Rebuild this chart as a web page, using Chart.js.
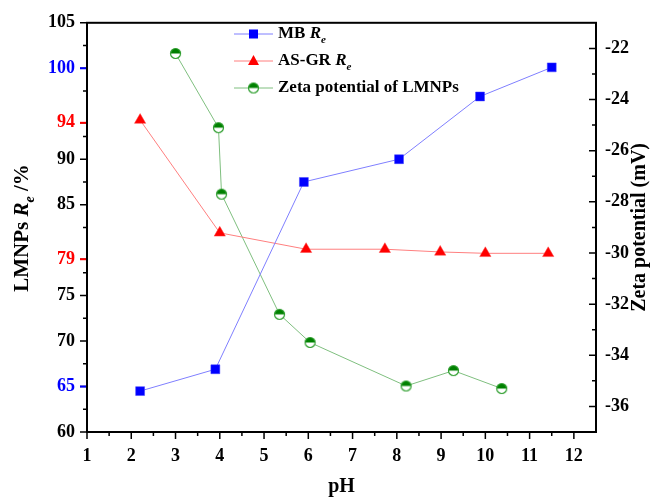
<!DOCTYPE html>
<html>
<head>
<meta charset="utf-8">
<script src="https://cdn.jsdelivr.net/npm/chart.js@4.4.1/dist/chart.umd.min.js"></script>
<style>
html, body { margin: 0; padding: 0; background: #fff; }
#wrap { width: 659px; height: 499px; position: relative; }
</style>
</head>
<body>
<div id="wrap"><canvas id="reChart"></canvas></div>
<script>
// MB removal
var mbPH = [2.2, 3.9, 5.9, 8.05, 9.88, 11.5];
var mbRe = [64.5, 66.9, 87.5, 90.0, 96.9, 100.1];
// AS-GR removal
var asPH = [2.2, 4.0, 5.95, 7.73, 8.98, 10.0, 11.42];
var asRe = [94.3, 81.9, 80.1, 80.1, 79.8, 79.65, 79.65];
// zeta potential
var zetaPH = [3.0, 3.97, 4.04, 5.35, 6.04, 8.21, 9.28, 10.37];
var zeta = [-22.2, -25.1, -27.7, -32.4, -33.5, -35.2, -34.6, -35.3];

// tick labels
var xTicks = [1, 2, 3, 4, 5, 6, 7, 8, 9, 10, 11, 12];
var xMinor = [1.5, 2.5, 3.5, 4.5, 5.5, 6.5, 7.5, 8.5, 9.5, 10.5, 11.5];
var leftTicks = [60, 65, 70, 75, 79, 85, 90, 94, 100, 105];
var leftMinor = [62.5, 67.5, 72.5, 77.5, 82.5, 87.5, 92.5, 97.5, 102.5];
var rightTicks = [-36, -34, -32, -30, -28, -26, -24, -22];
var rightMinor = [-35, -33, -31, -29, -27, -25, -23];
var blueTicks = [65, 100];
var redTicks = [79, 94];

var FONT = '"Liberation Serif", "Times New Roman", serif';

function toPoints(xs, ys) {
  return xs.map(function (x, i) { return { x: x, y: ys[i] }; });
}

// half filled circle marker
function halfCircle() {
  var c = document.createElement('canvas');
  c.width = 13; c.height = 13;
  var g = c.getContext('2d');
  g.fillStyle = '#fff';
  g.beginPath(); g.arc(6.5, 6.5, 5, 0, Math.PI * 2); g.fill();
  g.fillStyle = '#008000';
  g.beginPath(); g.arc(6.5, 6.5, 5, Math.PI, Math.PI * 2); g.closePath(); g.fill();
  g.strokeStyle = '#2e9e2e';
  g.lineWidth = 1.2;
  g.beginPath(); g.arc(6.5, 6.5, 5, 0, Math.PI * 2); g.stroke();
  return c;
}
var zetaMarker = halfCircle();

function tickColor(c) {
  var v = c.tick ? c.tick.value : null;
  if (blueTicks.indexOf(v) >= 0) return '#0000ff';
  if (redTicks.indexOf(v) >= 0) return '#ff0000';
  return '#000';
}

// frame, tick marks, titles and legend
var decor = {
  id: 'decor',
  afterDatasetsDraw: function (chart) {
    var ctx = chart.ctx, a = chart.chartArea;
    var sx = chart.scales.x, sy = chart.scales.y, sy1 = chart.scales.y1;
    ctx.save();
    ctx.strokeStyle = '#000';
    ctx.lineWidth = 2;
    ctx.strokeRect(a.left, a.top, a.right - a.left, a.bottom - a.top);

    ctx.lineWidth = 1.5;
    ctx.beginPath();
    xTicks.forEach(function (v) { var p = sx.getPixelForValue(v); ctx.moveTo(p, a.bottom); ctx.lineTo(p, a.bottom + 7); });
    xMinor.forEach(function (v) { var p = sx.getPixelForValue(v); ctx.moveTo(p, a.bottom); ctx.lineTo(p, a.bottom + 4); });
    leftTicks.forEach(function (v) { var p = sy.getPixelForValue(v); ctx.moveTo(a.left, p); ctx.lineTo(a.left - 7, p); });
    leftMinor.forEach(function (v) { var p = sy.getPixelForValue(v); ctx.moveTo(a.left, p); ctx.lineTo(a.left - 4, p); });
    rightTicks.forEach(function (v) { var p = sy1.getPixelForValue(v); ctx.moveTo(a.right, p); ctx.lineTo(a.right - 7, p); });
    rightMinor.forEach(function (v) { var p = sy1.getPixelForValue(v); ctx.moveTo(a.right, p); ctx.lineTo(a.right - 4, p); });
    ctx.stroke();

    // coloured major ticks on the left axis
    ctx.lineWidth = 2;
    blueTicks.concat(redTicks).forEach(function (v) {
      var p = sy.getPixelForValue(v);
      ctx.strokeStyle = blueTicks.indexOf(v) >= 0 ? '#0000ff' : '#ff0000';
      ctx.beginPath(); ctx.moveTo(a.left - 1, p); ctx.lineTo(a.left - 7, p); ctx.stroke();
    });

    ctx.fillStyle = '#000';
    ctx.textBaseline = 'middle';
    // x title
    ctx.font = 'bold 20px ' + FONT;
    ctx.textAlign = 'center';
    ctx.fillText('pH', (a.left + a.right) / 2, 487);

    // right title, reads bottom to top
    ctx.save();
    ctx.translate(640, (a.top + a.bottom) / 2);
    ctx.rotate(-Math.PI / 2);
    ctx.font = 'bold 20px ' + FONT;
    ctx.fillText('Zeta potential (mV)', 0, 0);
    ctx.restore();

    // left title with italic R and subscript e
    ctx.save();
    ctx.translate(23, 228);
    ctx.rotate(-Math.PI / 2);
    drawRe(ctx, 'LMNPs ', ' /%', 21, true);
    ctx.restore();

    // legend
    var lx = 234, lx2 = 273, tx = 278;
    var rows = [34, 61, 88];
    ctx.lineWidth = 1;
    ctx.strokeStyle = '#7f7fff';
    ctx.beginPath(); ctx.moveTo(lx, rows[0]); ctx.lineTo(lx2, rows[0]); ctx.stroke();
    ctx.fillStyle = '#0000ff';
    ctx.fillRect(253.5 - 4.5, rows[0] - 4.5, 9, 9);

    ctx.strokeStyle = '#ff7f7f';
    ctx.beginPath(); ctx.moveTo(lx, rows[1]); ctx.lineTo(lx2, rows[1]); ctx.stroke();
    ctx.fillStyle = '#ff0000';
    ctx.beginPath();
    ctx.moveTo(253.5, rows[1] - 6); ctx.lineTo(259, rows[1] + 4); ctx.lineTo(248, rows[1] + 4);
    ctx.closePath(); ctx.fill();

    ctx.strokeStyle = '#7fbf7f';
    ctx.beginPath(); ctx.moveTo(lx, rows[2]); ctx.lineTo(lx2, rows[2]); ctx.stroke();
    ctx.drawImage(zetaMarker, 253.5 - 6.5, rows[2] - 6.5);

    ctx.fillStyle = '#000';
    ctx.textAlign = 'left';
    ctx.save(); ctx.translate(tx, rows[0]); drawRe(ctx, 'MB ', '', 17, false); ctx.restore();
    ctx.save(); ctx.translate(tx, rows[1]); drawRe(ctx, 'AS-GR ', '', 17, false); ctx.restore();
    ctx.font = 'bold 17px ' + FONT;
    ctx.fillText('Zeta potential of LMNPs', tx, rows[2]);
    ctx.restore();
  }
};

// text like "MB Re" starting at 0,0 (or centred)
function drawRe(ctx, before, after, size, centre) {
  var sub = Math.round(size * 0.65);
  ctx.textAlign = 'left';
  ctx.textBaseline = 'middle';
  ctx.font = 'bold ' + size + 'px ' + FONT;
  var w1 = ctx.measureText(before).width;
  var w3 = ctx.measureText(after).width;
  ctx.font = 'italic bold ' + size + 'px ' + FONT;
  var w2 = ctx.measureText('R').width;
  ctx.font = 'italic bold ' + sub + 'px ' + FONT;
  var w4 = ctx.measureText('e').width;
  var x = centre ? -(w1 + w2 + w3 + w4) / 2 : 0;
  ctx.font = 'bold ' + size + 'px ' + FONT;
  ctx.fillText(before, x, 0);
  x += w1;
  ctx.font = 'italic bold ' + size + 'px ' + FONT;
  ctx.fillText('R', x, 0);
  x += w2;
  ctx.font = 'italic bold ' + sub + 'px ' + FONT;
  ctx.fillText('e', x, size * 0.35);
  x += w4;
  ctx.font = 'bold ' + size + 'px ' + FONT;
  ctx.fillText(after, x, 0);
}

var ctx = document.getElementById('reChart').getContext('2d');
var reChart = new Chart(ctx, {
  type: 'scatter',
  data: {
    datasets: [{
      label: 'MB Re',
      data: toPoints(mbPH, mbRe),
      yAxisID: 'y',
      showLine: true,
      borderColor: '#7f7fff',
      borderWidth: 1,
      pointStyle: 'rect',
      pointRadius: 6.3,
      pointBorderWidth: 0.5,
      pointBackgroundColor: '#0000ff',
      pointBorderColor: '#4040ff'
    }, {
      label: 'AS-GR Re',
      data: toPoints(asPH, asRe),
      yAxisID: 'y',
      showLine: true,
      borderColor: '#ff7f7f',
      borderWidth: 1,
      pointStyle: 'triangle',
      pointRadius: 6.5,
      pointBorderWidth: 0.5,
      pointBackgroundColor: '#ff0000',
      pointBorderColor: '#ff4040'
    }, {
      label: 'Zeta potential of LMNPs',
      data: toPoints(zetaPH, zeta),
      yAxisID: 'y1',
      showLine: true,
      borderColor: '#7fbf7f',
      borderWidth: 1,
      pointStyle: zetaMarker,
      pointRadius: 6
    }]
  },
  options: {
    responsive: true,
    maintainAspectRatio: false,
    animation: false,
    layout: { padding: { top: 22, left: 0, right: 0, bottom: 0 } },
    plugins: { legend: { display: false }, tooltip: { enabled: false } },
    scales: {
      x: {
        type: 'linear',
        min: 1,
        max: 12.5,
        grid: { display: false, drawTicks: false },
        border: { display: false },
        afterBuildTicks: function (s) { s.ticks = xTicks.map(function (v) { return { value: v }; }); },
        afterFit: function (s) { s.height = 67; },
        ticks: { padding: 14, color: '#000', maxRotation: 0, font: { family: FONT, size: 18, weight: 'bold' } }
      },
      y: {
        position: 'left',
        min: 60,
        max: 105,
        grid: { display: false, drawTicks: false },
        border: { display: false },
        afterBuildTicks: function (s) { s.ticks = leftTicks.map(function (v) { return { value: v }; }); },
        afterFit: function (s) { s.width = 87; },
        ticks: { padding: 12, color: tickColor, font: { family: FONT, size: 18, weight: 'bold' } }
      },
      y1: {
        position: 'right',
        min: -37,
        max: -21,
        grid: { display: false, drawTicks: false },
        border: { display: false },
        afterBuildTicks: function (s) { s.ticks = rightTicks.map(function (v) { return { value: v }; }); },
        afterFit: function (s) { s.width = 63; },
        ticks: { padding: 9, color: '#000', font: { family: FONT, size: 18, weight: 'bold' } }
      }
    }
  },
  plugins: [decor]
});
</script>
</body>
</html>
